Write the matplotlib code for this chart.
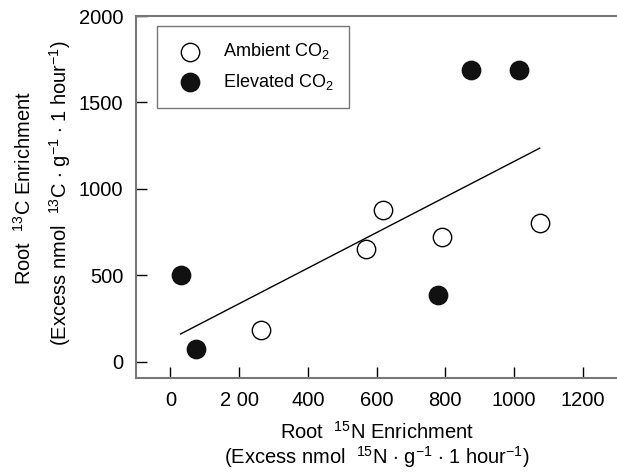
import matplotlib
matplotlib.use('Agg')
import matplotlib.pyplot as plt

plt.rcParams['font.family'] = ['Liberation Sans', 'DejaVu Sans']
plt.rcParams['mathtext.fontset'] = 'custom'
plt.rcParams['mathtext.rm'] = 'Liberation Sans'
plt.rcParams['mathtext.it'] = 'Liberation Sans:italic'
plt.rcParams['mathtext.bf'] = 'Liberation Sans:bold'

# данные
ambient_x = [265, 570, 620, 790, 1075]
ambient_y = [185, 650, 880, 720, 800]
elevated_x = [30, 75, 780, 875, 1015]
elevated_y = [500, 75, 385, 1690, 1690]
fit_x = [30, 1075]
fit_y = [160, 1235]
x_ticks = [0, 200, 400, 600, 800, 1000, 1200]
y_ticks = [0, 500, 1000, 1500, 2000]

fig = plt.figure(figsize=(6.17, 4.73), dpi=100)
ax = fig.add_axes([136 / 617, 1 - 378 / 473, 1 - 136 / 617, (378 - 16) / 473])

ax.plot(fit_x, fit_y, color='black', lw=1.0, zorder=1)
ax.scatter(ambient_x, ambient_y, s=175, facecolor='white', edgecolor='black',
           linewidth=1.0, zorder=3, label='Ambient CO$_2$')
ax.scatter(elevated_x, elevated_y, s=175, facecolor='#111111', edgecolor='#111111',
           linewidth=1.0, zorder=3, label='Elevated CO$_2$')

ax.set_xlim(-100, 1300)
ax.set_ylim(-95, 2000)
ax.set_xticks(x_ticks)
ax.set_yticks(y_ticks)
ax.tick_params(direction='in', length=8, width=1, color='black', labelsize=14.5, pad=9)
ax.set_xticklabels(['0', '2 00', '400', '600', '800', '1000', '1200'])

for s in ['left', 'bottom', 'top']:
    ax.spines[s].set_color('#777777')
    ax.spines[s].set_linewidth(1.5)
ax.spines['right'].set_visible(False)

leg = ax.legend(loc='upper left', bbox_to_anchor=(21 / 481, 1 - 10 / 362), fontsize=13,
                frameon=True, fancybox=False, edgecolor='#555555',
                handletextpad=0.8, labelspacing=0.6, borderpad=0.85, borderaxespad=0)
leg.get_frame().set_linewidth(1.0)

# подписи осей в две строки
fig.text(377 / 617, 1 - 439 / 473, 'Root  $^{15}$N Enrichment', ha='center', va='baseline',
         fontsize=14.5)
fig.text(377 / 617, 1 - 464 / 473,
         '(Excess nmol  $^{15}$N $\\cdot$ g$^{-1}$ $\\cdot$ 1 hour$^{-1}$)',
         ha='center', va='baseline', fontsize=14.5)
fig.text(31 / 617, 1 - 188 / 473, 'Root  $^{13}$C Enrichment', ha='center', va='baseline',
         rotation=90, rotation_mode='anchor', fontsize=14.5)
fig.text(67 / 617, 1 - 193 / 473,
         '(Excess nmol  $^{13}$C $\\cdot$ g$^{-1}$ $\\cdot$ 1 hour$^{-1}$)',
         ha='center', va='baseline', rotation=90, rotation_mode='anchor', fontsize=14.5)

plt.savefig('out.png', dpi=100)
